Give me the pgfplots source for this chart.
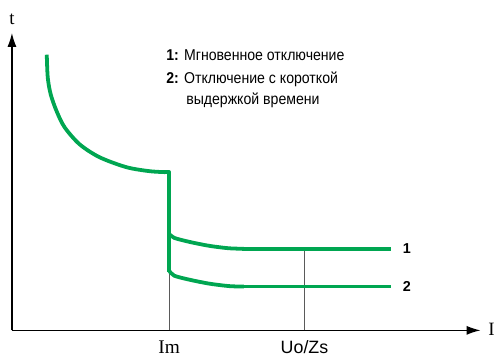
\documentclass[border=0pt]{standalone}
\usepackage{pgfplots}
\pgfplotsset{compat=1.18}
\usetikzlibrary{arrows.meta}
\usepackage{fontspec}
\setmainfont{Liberation Serif}
\newfontfamily\helv{Liberation Sans}
\newfontfamily\helvn[FakeStretch=0.9]{Liberation Sans}
\definecolor{cgreen}{RGB}{0,166,81}
\definecolor{cgray}{RGB}{90,90,90}
\begin{document}
\begin{tikzpicture}
\begin{axis}[
  width=498bp, height=358bp, scale only axis,
  xmin=0, xmax=498, ymin=0, ymax=358,
  hide axis, clip=false,
]
\path (rel axis cs:0,0) rectangle (rel axis cs:1,1);
% axes
\addplot[black, line width=1.4bp, -{Latex[length=14bp,width=9bp]}] coordinates {(12,26) (12,325)};
\addplot[black, line width=1.4bp, -{Latex[length=14bp,width=9bp]}] coordinates {(12,26) (483,26)};
% gray guide lines
\addplot[cgray, line width=0.7bp] coordinates {(170,26) (170,86)};
\addplot[cgray, line width=0.7bp] coordinates {(306,26) (306,108)};
% main curve
\addplot[cgreen, line width=3.8bp, smooth, tension=0.5, line join=round] coordinates {
 (47,303) (48,280) (51,263) (57,246) (65,230) (80,213) (100,200) (127,190) (150,186) (166,185)};
\addplot[cgreen, line width=3.8bp, line join=round] coordinates {(164,185) (170,185) (170,85)};
% branch 1
\addplot[cgreen, line width=3.8bp, smooth, tension=0.5] coordinates {
 (170,123) (175,119) (190,115) (210,111) (230,108.5) (245,108)};
\addplot[cgreen, line width=3.8bp] coordinates {(243,108) (393,108)};
% branch 2
\addplot[cgreen, line width=3.8bp, smooth, tension=0.5] coordinates {
 (170,86) (175,81) (190,77) (210,73) (230,70.5) (245,70)};
\addplot[cgreen, line width=3.8bp] coordinates {(243,70) (393,70)};
% labels
\node[font=\fontsize{19}{19}\selectfont] at (axis cs:12,339) {t};
\node[font=\fontsize{19}{19}\selectfont] at (axis cs:494,27) {I};
\node[font=\fontsize{19.5}{19.5}\selectfont] at (axis cs:170,9) {Im};
\node[font=\helv\fontsize{18}{18}\selectfont] at (axis cs:306,9) {Uo/Zs};
\node[font=\helv\bfseries\fontsize{14.5}{14.5}\selectfont] at (axis cs:409,108) {1};
\node[font=\helv\bfseries\fontsize{14.5}{14.5}\selectfont] at (axis cs:409,70) {2};
\node[anchor=base west, inner sep=0pt, font=\helvn\fontsize{15.8}{15.8}\selectfont] at (axis cs:167,297.5) {{\bfseries 1:} Мгновенное отключение};
\node[anchor=base west, inner sep=0pt, font=\helvn\fontsize{15.8}{15.8}\selectfont] at (axis cs:167,274) {{\bfseries 2:} Отключение с короткой};
\node[anchor=base west, inner sep=0pt, font=\helvn\fontsize{15.8}{15.8}\selectfont] at (axis cs:187,253) {выдержкой времени};
\end{axis}
\end{tikzpicture}
\end{document}
